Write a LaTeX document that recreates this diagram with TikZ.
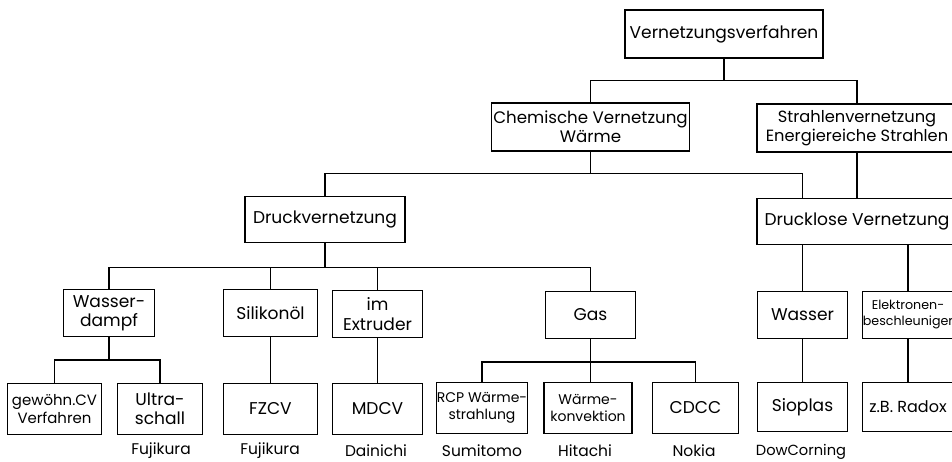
\documentclass[tikz,border=0pt]{standalone}
\usepackage{fontspec}
\setmainfont{Poppins}

\begin{document}
\begin{tikzpicture}[x = 0.75pt, y = -0.75pt, line width = 0.9pt,
  box/.style = {draw, minimum width = 68pt, minimum height = 35pt, inner sep = 0.5pt,
    align = center, font = \fontsize{12.8}{14.5}\selectfont},
  smallbox/.style = {box, font = \fontsize{10.5}{12.5}\selectfont},
  firma/.style = {font = \fontsize{11.6}{13}\selectfont}]
\useasboundingbox (0, 0) rectangle (952, 461);
\clip (0, 0) rectangle (952, 461);
% top levels
\node [box, minimum width = 148.5pt, minimum height = 36pt] (verf) at (724, 34) {Vernetzungsverfahren};
\node [box, font = \fontsize{12.5}{14.5}\selectfont, minimum width = 149pt, minimum height = 36pt] (chem) at (590.5, 127) {Chemische Vernetzung\\Wärme};
\node [box, font = \fontsize{12.2}{14.5}\selectfont, minimum width = 150pt, minimum height = 36pt] (strahl) at (857, 128) {Strahlenvernetzung\\Energiereiche Strahlen};
\node [box, minimum width = 120pt] (druck) at (325, 219.5) {Druckvernetzung};
\node [box, minimum width = 150pt] (drlos) at (857, 221.5) {Drucklose Vernetzung};
% second row
\node [box] (wdampf) at (109, 313) {Wasser-\\dampf};
\node [box, minimum width = 70pt] (silikon) at (270.5, 313) {Silikonöl};
\node [box] (extruder) at (377.5, 314) {im\\Extruder};
\node [box] (gas) at (590.5, 315) {Gas};
\node [box] (wasser) at (802.5, 315) {Wasser};
\node [smallbox, font = \fontsize{9.5}{12}\selectfont, inner sep = 0pt] (elektr) at (908, 315) {Elektronen-\\beschleuniger};
% third row
\node [smallbox, font = \fontsize{11.2}{13}\selectfont, minimum width = 71pt, minimum height = 38pt] (gewoehn) at (54.5, 409) {gewöhn.CV\\Verfahren};
\node [box, minimum width = 64pt, minimum height = 38pt] (ultra) at (160, 409) {Ultra-\\schall};
\node [box, minimum width = 70pt, minimum height = 38pt] (fzcv) at (270.5, 409) {FZCV};
\node [box, minimum height = 38pt] (mdcv) at (377.5, 409) {MDCV};
\node [smallbox, minimum width = 67.5pt, minimum height = 38pt] (rcp) at (482, 408) {RCP Wärme-\\strahlung};
\node [smallbox, minimum width = 66pt, minimum height = 38pt] (konv) at (588, 408) {Wärme-\\konvektion};
\node [box, minimum width = 65pt, minimum height = 38pt] (cdcc) at (695.5, 408) {CDCC};
\node [box, minimum height = 37pt] (sioplas) at (802.5, 407) {Sioplas};
\node [box, font = \fontsize{12}{14}\selectfont, minimum height = 37pt] (radox) at (908, 407) {z.B. Radox};
% firms
\node [firma] (f-ultra) at (161, 451) {Fujikura};
\node [firma] (f-fzcv) at (270, 451) {Fujikura};
\node [firma] (f-mdcv) at (376, 451) {Dainichi};
\node [firma] (f-rcp) at (482, 451) {Sumitomo};
\node [firma] (f-konv) at (585, 451) {Hitachi};
\node [firma] (f-cdcc) at (694, 451) {Nokia};
\node [firma, font = \fontsize{11}{12}\selectfont] (f-sioplas) at (801, 452) {DowCorning};
% connectors
\draw (verf.south) -- ++(0, 22) coordinate (k1);
\draw (chem.north) |- (k1) -| (strahl.north);
\draw (chem.south) -- ++(0, 22) coordinate (k2);
\draw (druck.north) |- (k2) -| (wasser |- drlos.north);
\draw (strahl.south) -- (strahl.south |- drlos.north);
\draw (druck.south) -- ++(0, 24) coordinate (k3);
\draw (wdampf.north) |- (k3) -| (gas.north);
\draw (silikon.north) -- (silikon |- k3);
\draw (extruder.north) -- (extruder |- k3);
\draw (wdampf.south) -- ++(0, 23) coordinate (k4);
\draw (gewoehn.north) |- (k4) -| (ultra.north);
\draw (silikon) -- (fzcv);
\draw (extruder) -- (mdcv);
\draw (gas.south) -- ++(0, 23) coordinate (k5);
\draw (rcp.north) |- (k5) -| (cdcc.north);
\draw (k5) -- (k5 |- konv.north);
\draw (drlos.south -| wasser) -- (wasser);
\draw (drlos.south -| elektr) -- (elektr);
\draw (wasser) -- (sioplas);
\draw (elektr) -- (radox);
\end{tikzpicture}
\end{document}
